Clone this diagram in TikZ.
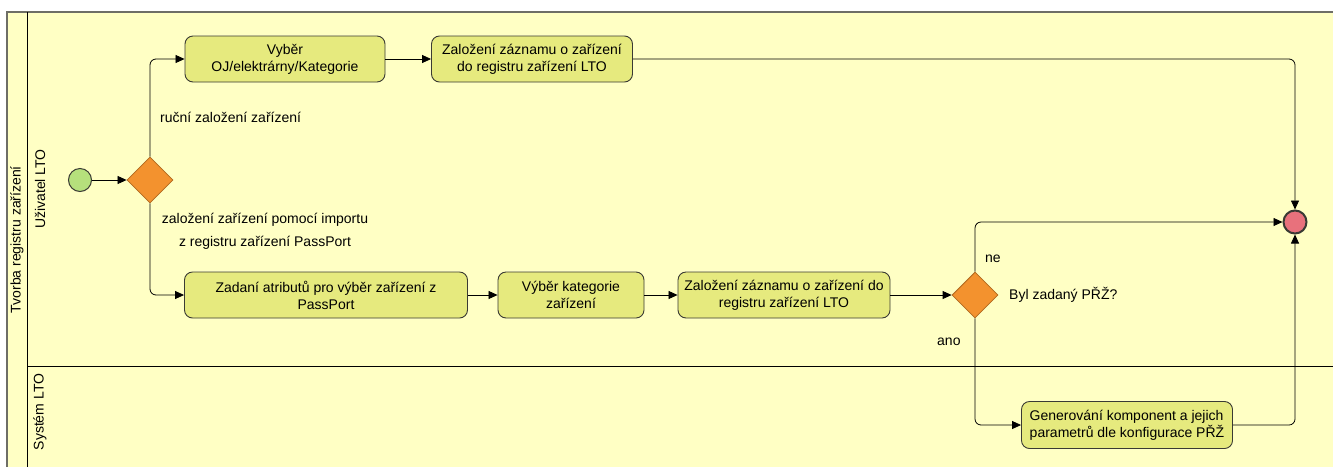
\documentclass[tikz,border=0pt]{standalone}
\usepackage{fontspec}
\setmainfont{Liberation Sans}
\usetikzlibrary{arrows.meta,shapes.geometric}

\definecolor{poolbg}{HTML}{FFFFC4}
\definecolor{taskfill}{HTML}{E6EA7E}
\definecolor{taskline}{HTML}{3A3A34}
\definecolor{gwfill}{HTML}{F3922E}
\definecolor{gwline}{HTML}{B0681E}
\definecolor{startfill}{HTML}{B6E07C}
\definecolor{endfill}{HTML}{E8717C}
\definecolor{poolline}{HTML}{6E6E66}

\tikzset{
  task/.style={draw=taskline, fill=taskfill, line width=0.9pt, rounded corners=8pt,
    minimum height=46pt, align=center, font=\fontsize{14}{17}\selectfont, inner sep=2pt},
  gateway/.style={diamond, draw=gwline, fill=gwfill, line width=0.8pt,
    minimum width=46pt, minimum height=46pt, inner sep=0pt},
  startev/.style={circle, draw=taskline, fill=startfill, line width=1pt, minimum size=23pt, inner sep=0pt},
  endev/.style={circle, draw=taskline, fill=endfill, line width=2pt, minimum size=23pt, inner sep=0pt},
  flow/.style={draw=black, line width=0.8pt, rounded corners=6pt,
    -{Triangle[length=9pt,width=8pt]}},
  lbl/.style={font=\fontsize{14}{23}\selectfont, inner sep=0pt},
  lanelbl/.style={font=\fontsize{14}{17}\selectfont, rotate=90, inner sep=0pt},
}

\begin{document}
\begin{tikzpicture}[x=1pt, y=-1pt]
  \useasboundingbox (0,0) rectangle (1333,467);
  \fill[white] (0,0) rectangle (1333,467);

  % pool and lanes
  \fill[poolbg] (7,12) rectangle (1333,467);
  \draw[poolline, line width=1.3pt] (7,467) -- (7,12) -- (1333,12);
  \draw[black, line width=1pt] (27,12) -- (27,467);
  \draw[black, line width=1pt] (27,366) -- (1333,366);
  \node[lanelbl] (pool) at (17,240) {Tvorba registru zařízení};
  \node[lanelbl] (lane1) at (40,189) {Uživatel LTO};
  \node[lanelbl] (lane2) at (40,412) {Systém LTO};

  % events and gateways
  \node[startev] (start) at (80,180) {};
  \node[gateway] (gw1) at (150,180) {};
  \node[gateway] (gw2) at (975,295) {};
  \node[endev] (end) at (1295,222) {};

  % tasks
  \node[task, minimum width=200pt] (t1) at (285,59) {Vyběr\\OJ/elektrárny/Kategorie};
  \node[task, minimum width=201pt] (t2) at (532,59) {Založení záznamu o zařízení\\do registru zařízení LTO};
  \node[task, minimum width=283pt] (t3) at (326,295) {Zadaní atributů pro výběr zařízení z\\PassPort};
  \node[task, minimum width=146pt] (t4) at (571,295) {Výběr kategorie\\zařízení};
  \node[task, minimum width=212pt] (t5) at (784,295) {Založení záznamu o zařízení do\\registru zařízení LTO};
  \node[task, minimum width=211pt, minimum height=47pt, align=left] (t6) at (1127,425) {Generování komponent a jejich\\parametrů dle konfigurace PŘŽ};

  % sequence flows
  \draw[flow] (start) -- (gw1);
  \draw[flow] (gw1.north) |- (t1.west);
  \draw[flow] (gw1.south) |- (t3.west);
  \draw[flow] (t1) -- (t2);
  \draw[flow] (t2.east) -| (end.north);
  \draw[flow] (t3) -- (t4);
  \draw[flow] (t4) -- (t5);
  \draw[flow] (t5) -- (gw2);
  \draw[flow] (gw2.north) |- (end.west);
  \draw[flow] (gw2.south) |- (t6.west);
  \draw[flow] (t6.east) -| (end.south);

  % labels
  \node[lbl, anchor=west] (l1) at (160,117) {ruční založení zařízení};
  \node[lbl, align=center] (l2) at (265,231) {založení zařízení pomocí importu\\z registru zařízení PassPort};
  \node[lbl, anchor=west] (l3) at (985,259) {ne};
  \node[lbl, anchor=west] (l4) at (937,342) {ano};
  \node[lbl, anchor=west] (l5) at (1009,295) {Byl zadaný PŘŽ?};
\end{tikzpicture}
\end{document}
